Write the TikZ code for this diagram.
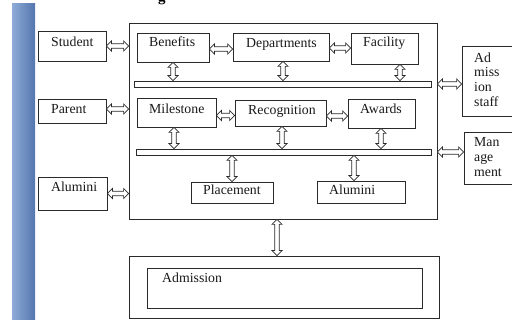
\documentclass[tikz,border=0pt]{standalone}
\usepackage{fontspec}
\setmainfont{Liberation Serif}
\usetikzlibrary{fit,calc}
\definecolor{lineC}{HTML}{2A2A2A}
\definecolor{barL}{HTML}{8EABD8}
\definecolor{barR}{HTML}{5476AE}
% hollow double-headed block arrow between two named coordinates
\newcommand\dblarrow[2]{%
  \path let \p1=($(#2)-(#1)$), \n1={atan2(\y1,\x1)}, \n2={veclen(\x1,\y1)} in
    \pgfextra{\xdef\myAng{\n1}\xdef\myLen{\n2}};
  \draw[arrbox, shift={(#1)}, rotate=\myAng]
    (0,0) -- (5,5) -- (5,2.2) -- (\myLen-5,2.2) -- (\myLen-5,5) -- (\myLen,0)
    -- (\myLen-5,-5) -- (\myLen-5,-2.2) -- (5,-2.2) -- (5,-5) -- cycle;
}
\begin{document}
\begin{tikzpicture}[x=1pt,y=-1pt,
  box/.style={draw=lineC, line width=0.8pt, inner sep=0pt, fill=white},
  txt/.style={inner sep=0pt, font=\fontsize{13.8}{14.6}\selectfont, text=black!90},
  arrbox/.style={draw=lineC, fill=white, line width=0.7pt, line join=miter}]
\useasboundingbox (0,0) rectangle (512,320);
% left blue bar
\shade[left color=barL, right color=barR] (12,4) rectangle (35,322);
% cut-off title fragment
\node[inner sep=0pt, anchor=base west, font=\fontsize{15}{15}\selectfont\bfseries] (title) at (158,1.5) {g};
% outer frames
\node[box, fit={(129,23) (437,219)}] (main) {};
\node[box, fit={(129,256) (439,318.5)}] (outer) {};
\node[box, fit={(147,268) (422,308)}] (adm) {};
% left boxes
\node[box, fit={(38,31) (106,61)}] (stu) {};
\node[box, fit={(38,99) (106,123)}] (par) {};
\node[box, fit={(38,177) (107,210)}] (alu) {};
% right boxes
\node[box, fit={(462,46) (530,116)}] (adst) {};
\node[box, fit={(464,132) (530,184)}] (mgmt) {};
% inner boxes
\node[box, fit={(137,33) (209,62)}] (ben) {};
\node[box, fit={(233,33) (329,61)}] (dep) {};
\node[box, fit={(351,33) (418,64)}] (fac) {};
\node[box, fit={(134,81) (431,87)}] (bar1) {};
\node[box, fit={(137,98) (216,127)}] (mil) {};
\node[box, fit={(235,100) (326,126)}] (rec) {};
\node[box, fit={(348,99) (415,128)}] (awd) {};
\node[box, fit={(136,149) (431,155)}] (bar2) {};
\node[box, fit={(191,182) (273,203)}] (plc) {};
\node[box, fit={(317,181) (405,203)}] (alu2) {};
% texts
\node[txt, anchor=base west] (stuT) at (51,47) {Student};
\node[txt, anchor=base west] (parT) at (51,114) {Parent};
\node[txt, anchor=base west] (aluT) at (51,192) {Alumini};
\node[txt, anchor=base west] (benT) at (149,47) {Benefits};
\node[txt, anchor=base west] (depT) at (246,48) {Departments};
\node[txt, anchor=base west] (facT) at (363,47) {Facility};
\node[txt, anchor=base west] (milT) at (149,114) {Milestone};
\node[txt, anchor=base west] (recT) at (248,115) {Recognition};
\node[txt, anchor=base west] (awdT) at (360,114) {Awards};
\node[txt, anchor=base west] (plcT) at (203,195) {Placement};
\node[txt, anchor=base west] (alu2T) at (329,195) {Alumini};
\node[txt, anchor=base west] (admT) at (162,283) {Admission};
\node[txt, anchor=north west, align=left] (adstT) at (474,52.6) {Ad\\miss\\ion\\staff};
\node[txt, anchor=north west, align=left] (mgmtT) at (474,137.6) {Man\\age\\ment};
% connector end points (taken from the nodes)
\coordinate (h1a) at (stu.east);            \coordinate (h1b) at (stu.east -| main.west);
\coordinate (h2a) at (par.east |- 0,109);   \coordinate (h2b) at (main.west |- 0,109);
\coordinate (h3a) at (alu.east);            \coordinate (h3b) at (alu.east -| main.west);
\coordinate (h4a) at (ben.east |- 0,49);    \coordinate (h4b) at (dep.west |- 0,49);
\coordinate (h5a) at (dep.east |- 0,48);    \coordinate (h5b) at (fac.west |- 0,48);
\coordinate (h6a) at (mil.east |- 0,115.5); \coordinate (h6b) at (rec.west |- 0,115.5);
\coordinate (h7a) at (rec.east |- 0,116);   \coordinate (h7b) at (awd.west |- 0,116);
\coordinate (h8a) at (main.east |- 0,84);   \coordinate (h8b) at (adst.west |- 0,84);
\coordinate (h9a) at (main.east |- 0,152);  \coordinate (h9b) at (mgmt.west |- 0,152);
\coordinate (v1a) at (ben.south -| 173,0);  \coordinate (v1b) at (bar1.north -| 173,0);
\coordinate (v2a) at (dep.south -| 283,0);  \coordinate (v2b) at (bar1.north -| 283,0);
\coordinate (v3a) at (fac.south -| 400,0);  \coordinate (v3b) at (bar1.north -| 400,0);
\coordinate (v4a) at (mil.south -| 174,0);  \coordinate (v4b) at (bar2.north -| 174,0);
\coordinate (v5a) at (rec.south -| 282,0);  \coordinate (v5b) at (bar2.north -| 282,0);
\coordinate (v6a) at (awd.south -| 381,0);  \coordinate (v6b) at (bar2.north -| 381,0);
\coordinate (v7a) at (bar2.south -| 232,0); \coordinate (v7b) at (plc.north -| 232,0);
\coordinate (v8a) at (bar2.south -| 354,0); \coordinate (v8b) at (alu2.north -| 354,0);
\coordinate (v9a) at (main.south -| 277,0); \coordinate (v9b) at (outer.north -| 277,0);
% arrows
\dblarrow{h1a}{h1b}\dblarrow{h2a}{h2b}\dblarrow{h3a}{h3b}
\dblarrow{h4a}{h4b}\dblarrow{h5a}{h5b}\dblarrow{h6a}{h6b}
\dblarrow{h7a}{h7b}\dblarrow{h8a}{h8b}\dblarrow{h9a}{h9b}
\dblarrow{v1a}{v1b}\dblarrow{v2a}{v2b}\dblarrow{v3a}{v3b}
\dblarrow{v4a}{v4b}\dblarrow{v5a}{v5b}\dblarrow{v6a}{v6b}
\dblarrow{v7a}{v7b}\dblarrow{v8a}{v8b}\dblarrow{v9a}{v9b}
\end{tikzpicture}
\end{document}
